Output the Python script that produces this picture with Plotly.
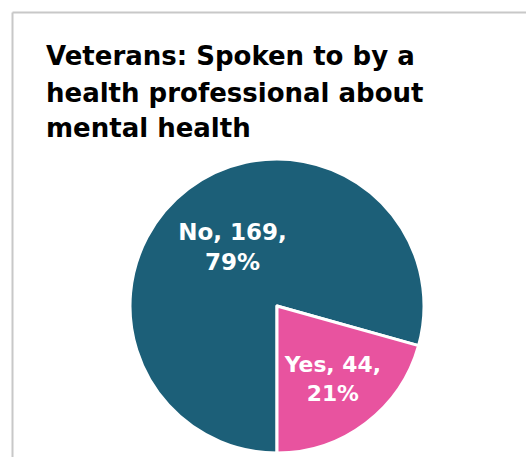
import plotly.graph_objects as go

labels = ["No", "Yes"]
values = [169, 44]
colors = ["#1c5f78", "#e8539f"]
title_lines = ["Veterans: Spoken to by a", "health professional about", "mental health"]

W, H = 526, 457

fig = go.Figure(go.Pie(
    labels=labels,
    values=values,
    sort=False,
    direction="clockwise",
    rotation=180,
    marker=dict(colors=colors, line=dict(color="white", width=3)),
    texttemplate="%{label}, %{value},<br>%{percent:.0%}",
    textposition="inside",
    insidetextorientation="horizontal",
    textfont=dict(family="DejaVu Sans", size=23, color="white", weight="bold"),
    hoverinfo="none",
    showlegend=False,
    domain=dict(x=[(277 - 147) / W, (277 + 147) / W], y=[(H - 306 - 147) / H, (H - 306 + 147) / H]),
))

title_mid_y = [56, 92.5, 127.5]
annotations = [
    dict(
        text=line, xref="paper", yref="paper",
        x=44 / W, y=1 - ym / H, xanchor="left", yanchor="middle",
        showarrow=False,
        font=dict(family="DejaVu Sans", size=26, color="black", weight="bold"),
    )
    for line, ym in zip(title_lines, title_mid_y)
]

border = dict(color="#c8c8c8", width=2)
fig.update_layout(
    width=W, height=H,
    margin=dict(l=0, r=0, t=0, b=0),
    paper_bgcolor="white",
    plot_bgcolor="white",
    annotations=annotations,
    shapes=[
        dict(type="line", xref="paper", yref="paper",
             x0=12.5 / W, x1=1.0, y0=1 - 12.5 / H, y1=1 - 12.5 / H, line=border),
        dict(type="line", xref="paper", yref="paper",
             x0=12.5 / W, x1=12.5 / W, y0=0.0, y1=1 - 12.5 / H, line=border),
    ],
)

fig.write_html(
    "out.html",
    config={"displayModeBar": False},
    post_script=(
        "document.body.style.margin='0';"
        "document.body.style.overflow='hidden';"
        "document.documentElement.style.overflow='hidden';"
    ),
)
